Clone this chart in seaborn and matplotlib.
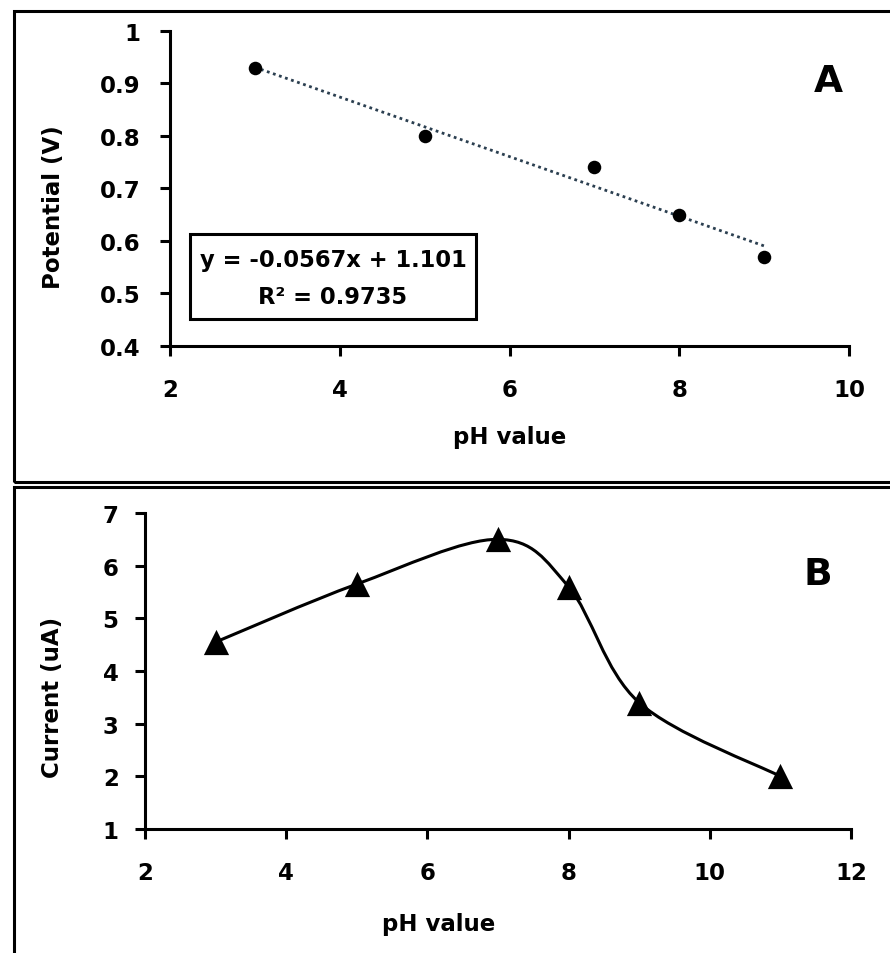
import numpy as np
import matplotlib
matplotlib.use('Agg')
import matplotlib.pyplot as plt
import seaborn as sns
from matplotlib.patches import Rectangle, PathPatch
from matplotlib.path import Path
from matplotlib.ticker import FuncFormatter

# ── data ──────────────────────────────────────────────
ph_a = [3, 5, 7, 8, 9]
potential = [0.93, 0.80, 0.74, 0.65, 0.57]

ph_b = [3, 5, 7, 8, 9, 11]
current = [4.55, 5.65, 6.5, 5.6, 3.4, 2.0]

eq_text = "y = -0.0567x + 1.101"
r2_text = "R\u00b2 = 0.9735"

sns.set_style("ticks")
plt.rcParams['font.family'] = ['DejaVu Sans']
plt.rcParams['font.weight'] = 'bold'
plt.rcParams['text.color'] = 'black'
plt.rcParams['axes.labelcolor'] = 'black'

fig = plt.figure(figsize=(8.9, 9.54), dpi=100)

# outer frames round each panel (cut by the right edge like the source)
for (y0, y1) in [(0.4937, 0.9874), (-0.02, 0.4885)]:
    fig.patches.append(Rectangle((0.0157, y0), 1.1, y1 - y0, transform=fig.transFigure,
                                 fill=False, lw=2.2, ec='black', clip_on=False))

def style_ax(ax, ypad):
    sns.despine(ax=ax)
    for sp in ['left', 'bottom']:
        ax.spines[sp].set_linewidth(2.2)
        ax.spines[sp].set_color('black')
    ax.tick_params(axis='both', direction='out', length=7, width=2.2, colors='black',
                   labelsize=16.5)
    ax.tick_params(axis='y', pad=ypad)
    ax.tick_params(axis='x', pad=16)
    for lb in ax.get_xticklabels() + ax.get_yticklabels():
        lb.set_fontweight('bold')
    ax.yaxis.set_major_formatter(FuncFormatter(lambda v, p: f'{v:g}'))

# ── panel A ───────────────────────────────────────────
axA = fig.add_axes([0.191, 0.6363, 0.763, 0.3302])
sns.regplot(x=ph_a, y=potential, ax=axA, ci=None, truncate=True,
            scatter_kws=dict(s=95, color='black', alpha=1, zorder=3, linewidths=0),
            line_kws=dict(color='#2b3f50', lw=2, ls=(0, (1, 1.3))))
axA.set_xlim(2, 10)
axA.set_ylim(0.4, 1.0)
axA.set_xticks(np.arange(2, 11, 2))
axA.set_yticks(np.arange(0.4, 1.01, 0.1))
style_ax(axA, 14)
axA.set_xlabel('pH value', fontsize=16.5, fontweight='bold')
axA.set_ylabel('Potential (V)', fontsize=16.5, fontweight='bold')
axA.xaxis.set_label_coords(0.5, -0.25)
axA.yaxis.set_label_coords(-0.155, 0.444)

axA.add_patch(Rectangle((0.0295, 0.0857), 0.421, 0.27, transform=axA.transAxes,
                        fill=False, lw=2.2, ec='black', clip_on=False, zorder=4))
axA.text(0.240, 0.276, eq_text, transform=axA.transAxes, ha='center', va='center',
         fontsize=16.3, fontweight='bold')
axA.text(0.240, 0.156, r2_text, transform=axA.transAxes, ha='center', va='center',
         fontsize=16.3, fontweight='bold')
axA.text(0.970, 0.841, 'A', transform=axA.transAxes, ha='center', va='center',
         fontsize=27, fontweight='bold')

# ── panel B ───────────────────────────────────────────
axB = fig.add_axes([0.163, 0.1300, 0.793, 0.3312])

def smooth_path(xs, ys):
    pts = np.column_stack([xs, ys]).astype(float)
    verts, codes = [pts[0]], [Path.MOVETO]
    n = len(pts)
    for i in range(n - 1):
        p0 = pts[i - 1] if i > 0 else pts[i]
        p1, p2 = pts[i], pts[i + 1]
        p3 = pts[i + 2] if i + 2 < n else pts[i + 1]
        verts += [p1 + (p2 - p0) / 6, p2 - (p3 - p1) / 6, p2]
        codes += [Path.CURVE4] * 3
    return Path(verts, codes)

axB.add_patch(PathPatch(smooth_path(ph_b, current), fill=False, lw=2.2,
                        ec='black', zorder=2))
sns.scatterplot(x=ph_b, y=current, ax=axB, marker='^', s=330, color='black',
                linewidth=0, zorder=3)
axB.set_xlim(2, 12)
axB.set_ylim(1, 7)
axB.set_xticks(np.arange(2, 13, 2))
axB.set_yticks(np.arange(1, 8, 1))
style_ax(axB, 12)
axB.set_xlabel('pH value', fontsize=16.5, fontweight='bold')
axB.set_ylabel('Current (uA)', fontsize=16.5, fontweight='bold')
axB.xaxis.set_label_coords(0.416, -0.262)
axB.yaxis.set_label_coords(-0.115, 0.421)
axB.text(0.953, 0.807, 'B', transform=axB.transAxes, ha='center', va='center',
         fontsize=27, fontweight='bold')

plt.savefig('out.png', dpi=100)
plt.close()
